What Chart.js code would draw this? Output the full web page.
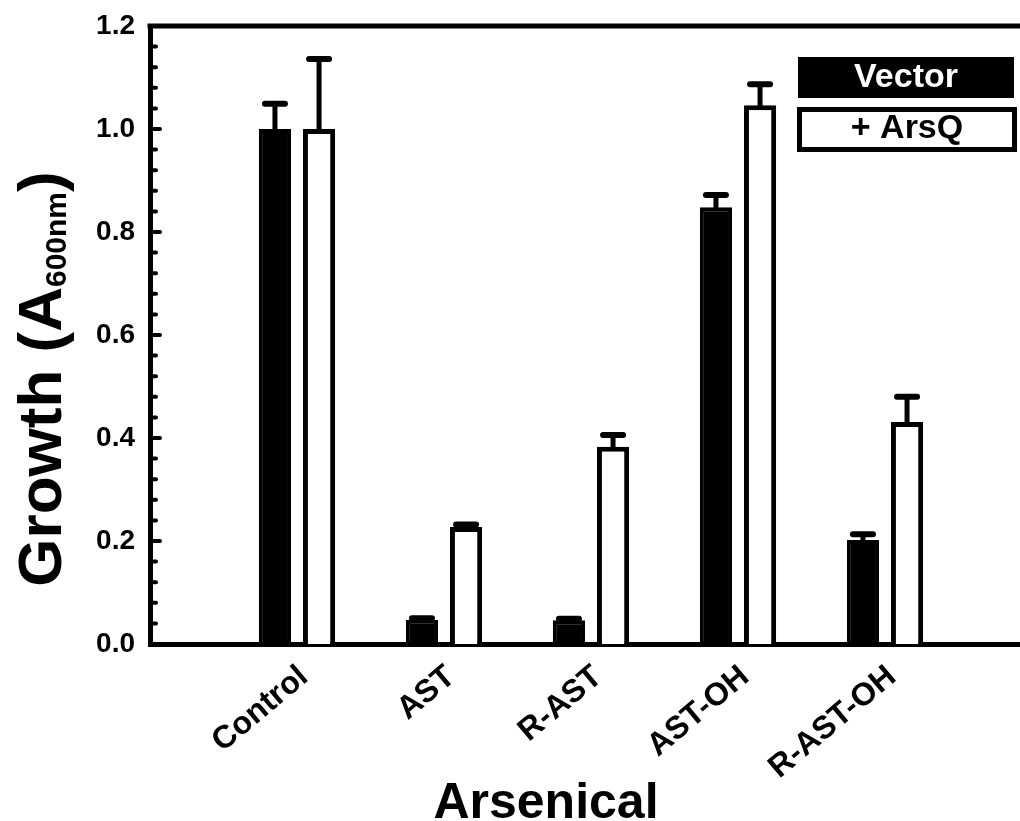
<!DOCTYPE html>
<html>
<head>
<meta charset="utf-8">
<script src="https://cdn.jsdelivr.net/npm/chart.js@4.4.0/dist/chart.umd.min.js"></script>
<style>
  html, body { margin: 0; padding: 0; overflow: hidden; background: #fff; }
</style>
</head>
<body>
<canvas id="myChart" width="1032" height="821"></canvas>
<script>
var categories = ['Control', 'AST', 'R-AST', 'AST-OH', 'R-AST-OH'];
var vectorVals = [1.0, 0.047, 0.046, 0.848, 0.202];
var vectorErr = [0.049, 0.003, 0.003, 0.024, 0.011];
var arsqVals = [1.0, 0.227, 0.383, 1.046, 0.431];
var arsqErr = [0.136, 0.005, 0.023, 0.041, 0.049];
var yTicks = [0, 0.2, 0.4, 0.6, 0.8, 1.0, 1.2];

var FONT = 'Liberation Sans, Arial, Helvetica, sans-serif';

// empty slot at each end so the groups sit on whole steps of the axis
function pad(arr) {
    return [null].concat(arr, [null]);
}

var extras = {
    id: 'extras',
    afterDatasetsDraw: function(chart) {
        var ctx = chart.ctx;
        var y = chart.scales.y;
        ctx.save();
        ctx.strokeStyle = '#000';
        ctx.lineCap = 'round';
        chart.data.datasets.forEach(function(ds, i) {
            var meta = chart.getDatasetMeta(i);
            meta.data.forEach(function(bar, j) {
                var v = ds.data[j];
                if (v == null) return;
                var e = ds.errors[j - 1];
                var top = y.getPixelForValue(v + e);
                ctx.lineWidth = 5;
                ctx.beginPath();
                ctx.moveTo(bar.x, bar.y);
                ctx.lineTo(bar.x, top);
                ctx.stroke();
                ctx.lineWidth = 6;
                ctx.beginPath();
                ctx.moveTo(bar.x - 10, top);
                ctx.lineTo(bar.x + 10, top);
                ctx.stroke();
            });
        });
        ctx.restore();
    },
    afterDraw: function(chart) {
        var ctx = chart.ctx;
        var area = chart.chartArea;
        var y = chart.scales.y;
        ctx.save();
        ctx.strokeStyle = '#000';

        // top frame line (no right side)
        ctx.lineWidth = 5;
        ctx.beginPath();
        ctx.moveTo(area.left - 2.5, area.top);
        ctx.lineTo(area.right, area.top);
        ctx.stroke();

        // inward ticks, minor every 0.04
        ctx.lineWidth = 4;
        ctx.lineCap = 'round';
        for (var k = 1; k < 30; k++) {
            var py = y.getPixelForValue(k * 0.04);
            var len = (k % 5 === 0) ? 10 : 6;
            ctx.beginPath();
            ctx.moveTo(area.left, py);
            ctx.lineTo(area.left + len, py);
            ctx.stroke();
        }

        // legend boxes
        ctx.lineCap = 'butt';
        ctx.fillStyle = '#000';
        ctx.fillRect(798, 57, 216, 41);
        ctx.lineWidth = 5;
        ctx.strokeRect(799.5, 109.5, 215, 40);
        ctx.font = 'bold 34px ' + FONT;
        ctx.textAlign = 'center';
        ctx.textBaseline = 'middle';
        ctx.fillStyle = '#fff';
        ctx.fillText('Vector', 906, 78);
        ctx.fillStyle = '#000';
        ctx.fillText('+ ArsQ', 907, 129);

        // x title
        ctx.font = 'bold 50px ' + FONT;
        ctx.textBaseline = 'alphabetic';
        ctx.fillText('Arsenical', 546, 818);

        // y title with subscript
        var main1 = 'Growth (A', sub = '600nm', main2 = ')';
        ctx.translate(61, 379);
        ctx.rotate(-Math.PI / 2);
        ctx.textAlign = 'left';
        ctx.font = 'bold 62px ' + FONT;
        var w1 = ctx.measureText(main1).width;
        var w3 = ctx.measureText(main2).width;
        ctx.font = 'bold 30px ' + FONT;
        var w2 = ctx.measureText(sub).width;
        var x0 = -(w1 + w2 + w3) / 2;
        ctx.font = 'bold 62px ' + FONT;
        ctx.fillText(main1, x0, 0);
        ctx.fillText(main2, x0 + w1 + w2, 0);
        ctx.font = 'bold 30px ' + FONT;
        ctx.fillText(sub, x0 + w1, 5);
        ctx.restore();
    }
};

var config = {
    type: 'bar',
    data: {
        labels: pad(categories),
        datasets: [{
            label: 'Vector',
            data: pad(vectorVals),
            errors: vectorErr,
            backgroundColor: '#000',
            borderColor: '#000',
            borderWidth: 4,
            categoryPercentage: 0.6,
            barPercentage: 0.73
        }, {
            label: '+ ArsQ',
            data: pad(arsqVals),
            errors: arsqErr,
            backgroundColor: '#fff',
            borderColor: '#000',
            borderWidth: 5,
            categoryPercentage: 0.6,
            barPercentage: 0.73
        }]
    },
    options: {
        responsive: false,
        animation: false,
        layout: { padding: { top: 26, left: 0, right: 0, bottom: 0 } },
        plugins: {
            legend: { display: false },
            tooltip: { enabled: false }
        },
        scales: {
            x: {
                offset: false,
                grid: { display: false, drawTicks: false },
                border: { color: '#000', width: 5 },
                ticks: {
                    color: '#000',
                    font: { family: FONT, size: 32, weight: 'bold' },
                    minRotation: 40,
                    maxRotation: 40,
                    autoSkip: false,
                    padding: 14,
                    labelOffset: 7
                },
                afterFit: function(s) { s.height = 177; }
            },
            y: {
                min: 0,
                max: 1.2,
                afterBuildTicks: function(s) {
                    s.ticks = yTicks.map(function(v) { return { value: v }; });
                },
                grid: { display: false, drawTicks: false },
                border: { color: '#000', width: 5 },
                ticks: {
                    color: '#000',
                    font: { family: FONT, size: 28, weight: 'bold' },
                    padding: 15,
                    callback: function(v) { return v.toFixed(1); }
                },
                afterFit: function(s) {
                    s.width = 150;
                    s.paddingTop = 0;
                    s.paddingBottom = 0;
                }
            }
        }
    },
    plugins: [extras]
};

window.addEventListener('DOMContentLoaded', function() {
    var ctx = document.getElementById('myChart').getContext('2d');
    window.myBar = new Chart(ctx, config);
});
</script>
</body>
</html>
